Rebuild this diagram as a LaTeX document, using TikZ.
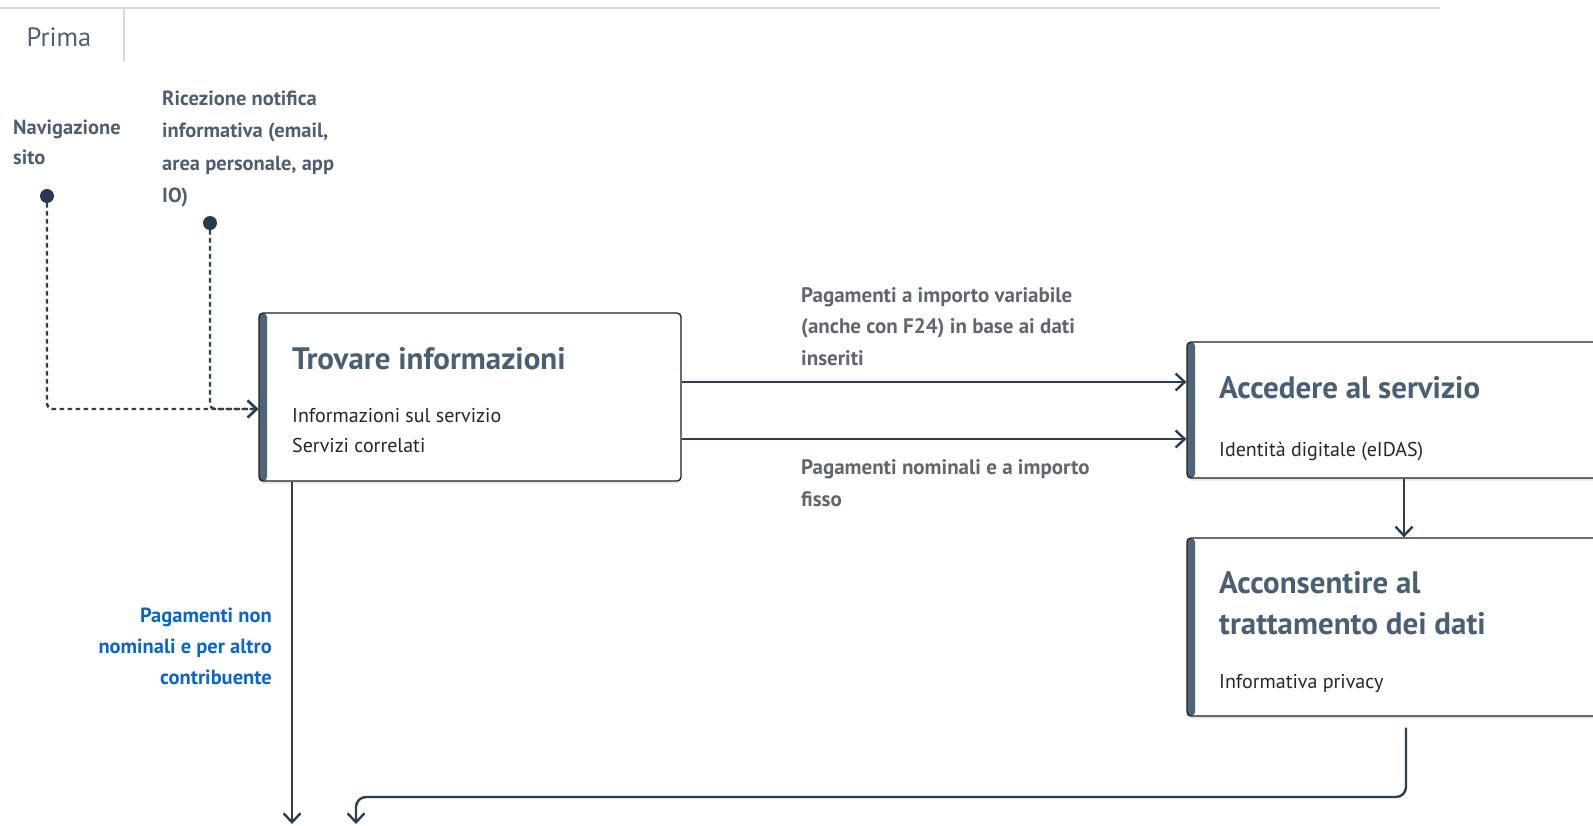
\documentclass[tikz,border=0pt]{standalone}
\usepackage{fontspec}
\setmainfont{PT Sans}
\usetikzlibrary{arrows.meta,shadows,calc}

\definecolor{slate}{HTML}{4A5E74}
\definecolor{barc}{HTML}{4F6479}
\definecolor{linec}{HTML}{2B3E52}
\definecolor{dotc}{HTML}{263A4F}
\definecolor{labelc}{HTML}{5F6670}
\definecolor{headc}{HTML}{4F5F70}
\definecolor{bluec}{HTML}{0A66C8}
\definecolor{borderc}{HTML}{1E1E1E}
\definecolor{tabline}{HTML}{D6D8DA}

% multi-line nodes below are anchored at the baseline of their last line
\tikzset{
  stepbox/.style={draw=borderc, line width=1.3pt, fill=white, rounded corners=4pt,
    inner sep=0pt, drop shadow={opacity=0.18, shadow xshift=0pt, shadow yshift=-2.5pt},
    path picture={\fill[barc] (path picture bounding box.north west) rectangle
      ([xshift=8pt]path picture bounding box.south west);}},
  boxtitle/.style={anchor=base west, inner sep=0pt, text=slate,
    font=\fontsize{31}{40.6}\selectfont\bfseries, align=left},
  boxtext/.style={anchor=base west, inner sep=0pt, text=black!85,
    font=\fontsize{20}{29.5}\selectfont, align=left},
  flowlabel/.style={anchor=base west, inner sep=0pt, text=labelc,
    font=\fontsize{21}{31.5}\selectfont\bfseries, align=left},
  conn/.style={draw=linec, line width=2.4pt,
    -{Straight Barb[length=9pt,width=17pt,line width=2.4pt]}},
  dashconn/.style={draw=linec, line width=2.4pt, dash pattern=on 4.5pt off 3.5pt,
    rounded corners=5pt, -{Straight Barb[length=9pt,width=17pt,line width=2.4pt]}},
  startdot/.style={circle, fill=dotc, minimum size=14pt, inner sep=0pt},
}

\begin{document}
\begin{tikzpicture}[x=1pt,y=-1pt]
\useasboundingbox (0,0) rectangle (1593,825);
\clip (0,0) rectangle (1593,825);

% tab strip
\draw[tabline, line width=1.5pt] (0,8) -- (1440,8);
\draw[tabline, line width=1.5pt] (124,8) -- (124,61);
\node[text=headc, font=\fontsize{26.5}{30}\selectfont, inner sep=0pt] (tab) at (59,37) {Prima};

% entry points
\node[flowlabel, text=headc, font=\fontsize{20.5}{30.5}\selectfont\bfseries] (nav) at (13,164.5) {Navigazione\\sito};
\node[flowlabel, text=headc, font=\fontsize{20.5}{32.3}\selectfont\bfseries] (ric) at (162,202.5) {Ricezione notifica\\informativa (email,\\area personale, app\\IO)};
\node[startdot] (d1) at (47,196) {};
\node[startdot] (d2) at (210,223) {};

% step boxes
\node[stepbox, minimum width=422pt, minimum height=168pt] (b1) at (470,397) {};
\node[stepbox, minimum width=470pt, minimum height=136pt] (b2) at (1422,410) {};
\node[stepbox, minimum width=470pt, minimum height=178pt] (b3) at (1422,627) {};

\node[boxtitle] (t1) at (292,369) {Trovare informazioni};
\node[boxtext] (s1) at (292,452) {Informazioni sul servizio\\Servizi correlati};

\node[boxtitle] (t2) at (1219,398) {Accedere al servizio};
\node[boxtext] (s2) at (1219,456) {Identità digitale (eIDAS)};

\node[boxtitle] (t3) at (1219,634) {Acconsentire al\\trattamento dei dati};
\node[boxtext] (s3) at (1219,688) {Informativa privacy};

% flow labels
\node[flowlabel] (l1) at (801,365) {Pagamenti a importo variabile\\(anche con F24) in base ai dati\\inseriti};
\node[flowlabel] (l2) at (801,506) {Pagamenti nominali e a importo\\fisso};
\node[flowlabel, anchor=base east, align=right, text=bluec,
  font=\fontsize{20.5}{31}\selectfont\bfseries] (l3) at (272,684)
  {Pagamenti non\\nominali e per altro\\contribuente};

% helper coordinates
\coordinate (jn) at (0,409);
\coordinate (ya) at (0,382);
\coordinate (yb) at (0,439);
\coordinate (xa) at (292,0);
\coordinate (xd) at (1404,0);
\coordinate (xr) at (1406,0);
\coordinate (ry) at (0,797);
\coordinate (bt) at (292,824);
\coordinate (rt) at (356,824);

% connectors
\draw[dashconn] (d1) |- (jn -| b1.west);
\draw[dashconn] (d2) |- (jn -| b1.west);
\draw[conn] (ya -| b1.east) -- (ya -| b2.west);
\draw[conn] (yb -| b1.east) -- (yb -| b2.west);
\draw[conn] (b2.south -| xd) -- (b3.north -| xd);
\draw[conn] (b1.south -| xa) -- (bt);
\draw[conn, rounded corners=10pt] ([yshift=-11pt]b3.south -| xr) |- (rt |- ry) -- (rt);
\end{tikzpicture}
\end{document}
